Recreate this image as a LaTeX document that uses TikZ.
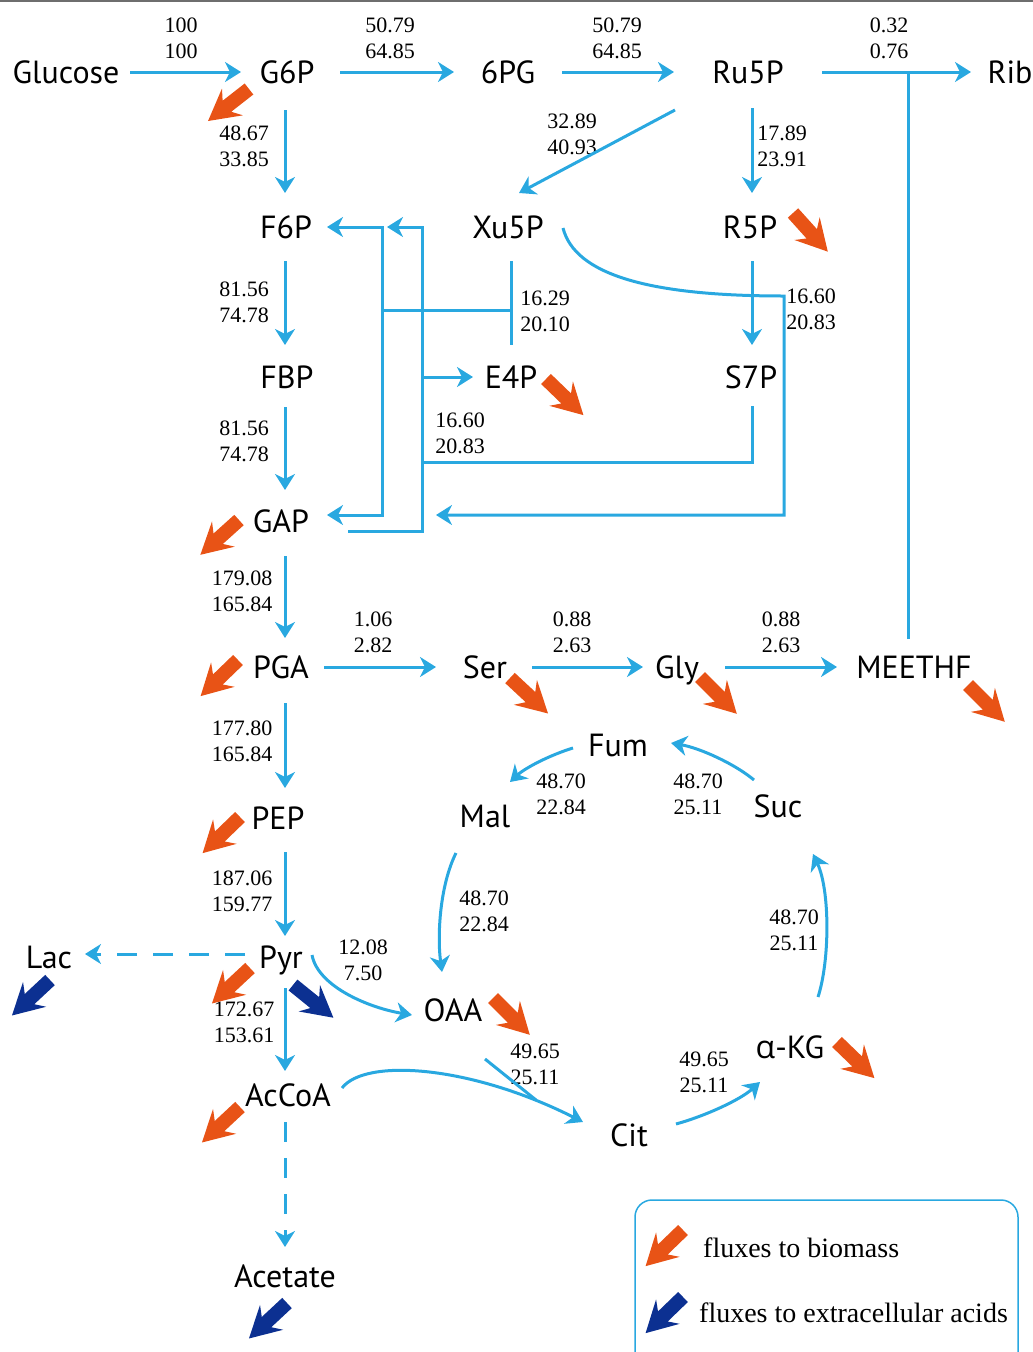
\documentclass[tikz,border=0pt]{standalone}
\usepackage{fontspec}
\setmainfont{Liberation Serif}
\newfontfamily\metfont{PT Sans}
\newfontfamily\grkfont{Open Sans}
\usetikzlibrary{arrows.meta,calc}
\definecolor{fluxblue}{RGB}{41,168,224}
\definecolor{bioorange}{RGB}{232,83,22}
\definecolor{aciddark}{RGB}{12,48,145}
\definecolor{framegray}{RGB}{110,110,110}
\tikzset{
  met/.style={font=\metfont\fontsize{32}{38}\selectfont, text height=22pt, text depth=0pt, inner sep=0pt},
  num/.style={font=\fontsize{22}{26}\selectfont, align=center, inner sep=0pt},
  legendtext/.style={font=\fontsize{28}{32}\selectfont, anchor=base west, inner sep=0pt},
  flow/.style={draw=fluxblue, line width=3pt, -{Stealth[length=16pt,width=20pt,inset=5pt]}},
  plainflow/.style={draw=fluxblue, line width=3pt},
  dashflow/.style={flow, dash pattern=on 20pt off 16pt},
  biopic/.pic={\fill[bioorange] (0,7) -- (28,7) -- (21,17) -- (52,0) -- (21,-17) -- (28,-7) -- (0,-7) -- cycle;},
  acidpic/.pic={\fill[aciddark] (0,7) -- (28,7) -- (21,17) -- (52,0) -- (21,-17) -- (28,-7) -- (0,-7) -- cycle;},
}
\begin{document}
\begin{tikzpicture}[x=1pt,y=-1pt]
\useasboundingbox (0,0) rectangle (1033,1352);
\clip (0,0) rectangle (1033,1352);
\draw[framegray, line width=2pt] (0,1) -- (1033,1);

% metabolites
\node[met] (Glucose) at (66,72) {Glucose};
\node[met] (G6P) at (287,72) {G6P};
\node[met] (pg6) at (508,72) {6PG};
\node[met] (Ru5P) at (748,72) {Ru5P};
\node[met] (Rib) at (1010,72) {Rib};
\node[met] (F6P) at (286,227) {F6P};
\node[met] (Xu5P) at (508,227) {Xu5P};
\node[met] (R5P) at (750,227) {R5P};
\node[met] (FBP) at (287,377) {FBP};
\node[met] (E4P) at (511,377) {E4P};
\node[met] (S7P) at (751,377) {S7P};
\node[met] (GAP) at (281,521) {GAP};
\node[met] (PGA) at (281,667) {PGA};
\node[met] (Ser) at (485,667) {Ser};
\node[met] (Gly) at (677,667) {Gly};
\node[met] (MEETHF) at (914,667) {MEETHF};
\node[met] (Fum) at (618,745) {Fum};
\node[met] (Mal) at (485,816) {Mal};
\node[met] (Suc) at (778,806) {Suc};
\node[met] (PEP) at (278,818) {PEP};
\node[met] (Lac) at (49,957) {Lac};
\node[met] (Pyr) at (281,957) {Pyr};
\node[met] (OAA) at (453,1010) {OAA};
\node[met] (akg) at (790,1047) {{\grkfont α}-KG};
\node[met] (AcCoA) at (288,1095) {AcCoA};
\node[met] (Cit) at (629,1135) {Cit};
\node[met] (Acetate) at (285,1276) {Acetate};

% flux values
\node[num] (n1) at (181,38) {100\\100};
\node[num] (n2) at (390,38) {50.79\\64.85};
\node[num] (n3) at (617,38) {50.79\\64.85};
\node[num] (n4) at (889,38) {0.32\\0.76};
\node[num] (n5) at (244,146) {48.67\\33.85};
\node[num] (n6) at (572,134) {32.89\\40.93};
\node[num] (n7) at (782,146) {17.89\\23.91};
\node[num] (n8) at (244,302) {81.56\\74.78};
\node[num] (n9) at (545,311) {16.29\\20.10};
\node[num] (n10) at (811,309) {16.60\\20.83};
\node[num] (n11) at (244,441) {81.56\\74.78};
\node[num] (n12) at (460,433) {16.60\\20.83};
\node[num] (n13) at (242,591) {179.08\\165.84};
\node[num] (n14) at (373,632) {1.06\\2.82};
\node[num] (n15) at (572,632) {0.88\\2.63};
\node[num] (n16) at (781,632) {0.88\\2.63};
\node[num] (n17) at (242,741) {177.80\\165.84};
\node[num] (n18) at (561,794) {48.70\\22.84};
\node[num] (n19) at (698,794) {48.70\\25.11};
\node[num] (n20) at (242,891) {187.06\\159.77};
\node[num] (n21) at (484,911) {48.70\\22.84};
\node[num] (n22) at (794,930) {48.70\\25.11};
\node[num] (n23) at (363,960) {12.08\\7.50};
\node[num] (n24) at (244,1022) {172.67\\153.61};
\node[num] (n25) at (535,1064) {49.65\\25.11};
\node[num] (n26) at (704,1072) {49.65\\25.11};

% top row
\draw[flow] ($(Glucose)+(64,0)$) -- ($(G6P)+(-46,0)$);
\draw[flow] ($(G6P)+(53,0)$) -- ($(pg6)+(-54,0)$);
\draw[flow] ($(pg6)+(54,0)$) -- ($(Ru5P)+(-74,0)$);
\draw[flow] ($(Ru5P)+(74,0)$) -- ($(Rib)+(-39,0)$);
\coordinate (mtop) at ($(MEETHF)+(-6,-28)$);
\draw[plainflow] (mtop) -- (mtop |- Ru5P);

% glycolysis
\draw[flow] ($(G6P)+(-2,38)$) -- ($(F6P)+(-1,-34)$);
\draw[flow] ($(F6P)+(-1,34)$) -- ($(FBP)+(-2,-32)$);
\draw[flow] ($(FBP)+(-2,30)$) -- ($(GAP)+(4,-31)$);
\draw[flow] ($(GAP)+(4,35)$) -- ($(PGA)+(4,-29)$);
\draw[flow] ($(PGA)+(4,36)$) -- ($(PEP)+(7,-30)$);
\draw[flow] ($(PEP)+(7,34)$) -- ($(Pyr)+(4,-21)$);
\draw[flow] ($(Pyr)+(4,31)$) -- ($(AcCoA)+(-3,-24)$);
\draw[dashflow] ($(AcCoA)+(-3,27)$) -- ($(Acetate)+(0,-29)$);
\draw[dashflow] ($(Pyr)+(-36,-3)$) -- ($(Lac)+(36,-3)$);
\draw[flow] ($(Pyr)+(31,-2)$) .. controls ($(Pyr)+(37,30)$) and ($(OAA)+(-83,-2)$) .. ($(OAA)+(-41,5)$);

% pentose phosphate
\draw[flow] ($(Ru5P)+(-73,38)$) -- ($(Xu5P)+(11,-34)$);
\draw[flow] ($(Ru5P)+(4,36)$) -- ($(R5P)+(2,-34)$);
\draw[flow] ($(R5P)+(2,34)$) -- ($(S7P)+(1,-32)$);
\coordinate (xr) at ($(R5P)+(34,69)$);
\coordinate (xb) at ($(xr)+(0,219)$);
\draw[flow] ($(Xu5P)+(55,1)$) .. controls ($(Xu5P)+(67,48)$) and ($(Xu5P)+(142,69)$) .. (xr) -- (xb) -- ($(GAP)+(155,-6)$);
\coordinate (tk) at ($(Xu5P)+(3,83)$);
\coordinate (tl) at ($(F6P)+(96,83)$);
\draw[plainflow] ($(Xu5P)+(3,34)$) -- ($(E4P)+(0,-32)$);
\draw[plainflow] (tk) -- (tl);
\draw[flow] (tl) |- ($(F6P)+(41,0)$);
\draw[flow] (tl) |- ($(GAP)+(46,-6)$);
\coordinate (ta) at ($(E4P)+(-89,85)$);
\draw[plainflow] ($(S7P)+(1,29)$) |- (ta);
\draw[flow] ($(GAP)+(67,10)$) -| (ta |- F6P) -- ($(F6P)+(101,0)$);
\draw[flow] (ta |- E4P) -- ($(E4P)+(-38,0)$);

% serine branch
\draw[flow] ($(PGA)+(43,0)$) -- ($(Ser)+(-49,0)$);
\draw[flow] ($(Ser)+(47,0)$) -- ($(Gly)+(-34,0)$);
\draw[flow] ($(Gly)+(48,0)$) -- ($(MEETHF)+(-77,0)$);

% TCA cycle
\draw[flow] ($(Fum)+(-45,3)$) .. controls ($(Fum)+(-68,10)$) and ($(Mal)+(40,-48)$) .. ($(Mal)+(25,-34)$);
\draw[flow] ($(Suc)+(-24,-26)$) .. controls ($(Suc)+(-43,-42)$) and ($(Fum)+(82,3)$) .. ($(Fum)+(53,-2)$);
\draw[flow] ($(Mal)+(-29,37)$) .. controls ($(Mal)+(-45,69)$) and ($(OAA)+(-16,-75)$) .. ($(OAA)+(-11,-38)$);
\draw[flow] ($(akg)+(28,-50)$) .. controls ($(akg)+(40,-87)$) and ($(Suc)+(52,84)$) .. ($(Suc)+(35,48)$);
\draw[flow] ($(Cit)+(47,-11)$) .. controls ($(Cit)+(76,-19)$) and ($(akg)+(-50,53)$) .. ($(akg)+(-30,35)$);
\draw[flow] ($(AcCoA)+(54,-7)$) .. controls ($(AcCoA)+(77,-37)$) and ($(Cit)+(-159,-70)$) .. ($(Cit)+(-46,-13)$);
\draw[plainflow] ($(OAA)+(32,49)$) -- ($(Cit)+(-93,-35)$);

% fluxes to biomass / extracellular acids
\pic[rotate=218] at ($(G6P)+(-38,17)$) {biopic};
\pic[rotate=-48] at ($(R5P)+(43,-14)$) {biopic};
\pic[rotate=-44] at ($(E4P)+(35,2)$) {biopic};
\pic[rotate=222] at ($(GAP)+(-42,-1)$) {biopic};
\pic[rotate=224] at ($(PGA)+(-43,-7)$) {biopic};
\pic[rotate=-43] at ($(Ser)+(25,11)$) {biopic};
\pic[rotate=-45] at ($(Gly)+(23,10)$) {biopic};
\pic[rotate=-45] at ($(MEETHF)+(54,18)$) {biopic};
\pic[rotate=224] at ($(PEP)+(-38,-1)$) {biopic};
\pic[rotate=223] at ($(Pyr)+(-31,11)$) {biopic};
\pic[rotate=-39] at ($(Pyr)+(12,28)$) {acidpic};
\pic[rotate=223] at ($(Lac)+(1,23)$) {acidpic};
\pic[rotate=223] at ($(AcCoA)+(-48,12)$) {biopic};
\pic[rotate=223] at ($(Acetate)+(2,27)$) {acidpic};
\pic[rotate=-45] at ($(OAA)+(40,-12)$) {biopic};
\pic[rotate=-44] at ($(akg)+(47,-5)$) {biopic};

% legend
\draw[fluxblue, line width=1.5pt, rounded corners=17pt] (635,1200) rectangle (1018,1390);
\node[legendtext] (lg1) at (703,1257) {fluxes to biomass};
\node[legendtext] (lg2) at (699,1322) {fluxes to extracellular acids};
\pic[rotate=224] at ($(lg1.base west)+(-20,-27)$) {biopic};
\pic[rotate=224] at ($(lg2.base west)+(-16,-25)$) {acidpic};
\end{tikzpicture}
\end{document}
